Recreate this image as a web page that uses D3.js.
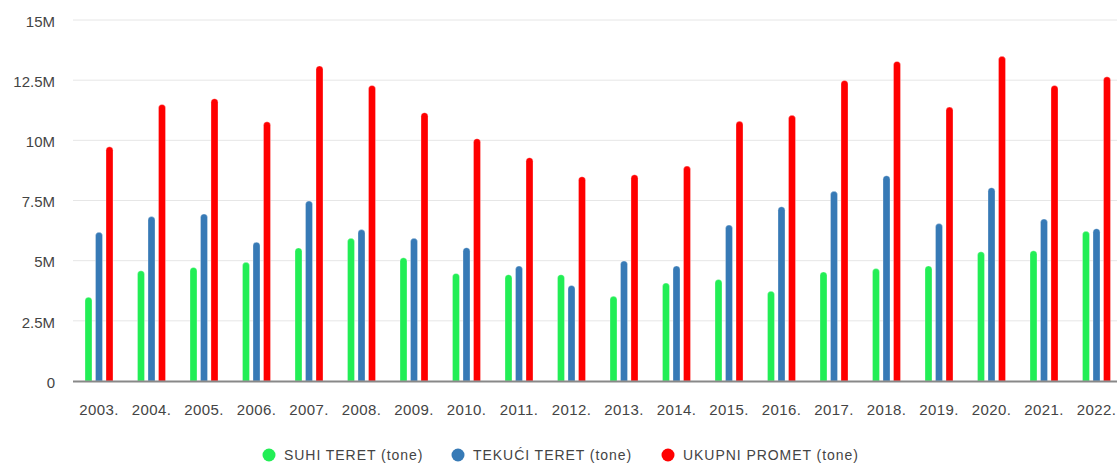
<!DOCTYPE html>
<html>
<head>
<meta charset="utf-8">
<script src="https://cdn.jsdelivr.net/npm/d3@7"></script>
<style>
  body { margin: 0; background: #fff; }
  svg { display: block; font-family: "Liberation Sans", Arial, sans-serif; }
</style>
</head>
<body>
<div class="panel"></div>
<script>
const years = ["2003.", "2004.", "2005.", "2006.", "2007.", "2008.", "2009.", "2010.", "2011.", "2012.",
               "2013.", "2014.", "2015.", "2016.", "2017.", "2018.", "2019.", "2020.", "2021.", "2022."];
const seriesNames = ["SUHI TERET (tone)", "TEKUĆI TERET (tone)", "UKUPNI PROMET (tone)"];
const seriesColors = ["#22ee55", "#377ab6", "#ff0000"];
const suhiTeret = [3.48, 4.58, 4.72, 4.93, 5.53, 5.93, 5.12, 4.47, 4.42, 4.42,
                   3.52, 4.07, 4.22, 3.73, 4.53, 4.67, 4.78, 5.37, 5.41, 6.22];
const tekuciTeret = [6.18, 6.83, 6.94, 5.77, 7.48, 6.29, 5.93, 5.54, 4.78, 3.97,
                     4.99, 4.78, 6.48, 7.24, 7.88, 8.53, 6.54, 8.03, 6.73, 6.33];
const ukupniPromet = [9.73, 11.49, 11.73, 10.77, 13.09, 12.28, 11.15, 10.07, 9.28, 8.49,
                      8.57, 8.93, 10.79, 11.04, 12.49, 13.28, 11.38, 13.49, 12.28, 12.64];
const yTicks = [0, 2.5e6, 5e6, 7.5e6, 10e6, 12.5e6, 15e6];
const yTickLabels = ["0", "2.5M", "5M", "7.5M", "10M", "12.5M", "15M"];

const width = 1117;
const height = 463;

const svg = d3.select(".panel")
    .append("svg")
    .attr("width", width)
    .attr("height", height)
    .attr("viewBox", `0 0 ${width} ${height}`);

const allSeries = [suhiTeret, tekuciTeret, ukupniPromet];
const rows = years.map((y, i) => ({
    year: y,
    values: seriesNames.map((s, k) => ({ key: s, value: allSeries[k][i] * 1e6 }))
}));

const x0 = d3.scaleBand()
    .domain(years)
    .range([72.75, 1122.75])
    .paddingInner(0.4)
    .paddingOuter(0.2);

const x1 = d3.scaleBand()
    .domain(seriesNames)
    .range([0, x0.bandwidth()])
    .paddingInner(1 / 3)
    .paddingOuter(1 / 6);

const y = d3.scaleLinear()
    .domain([0, 15e6])
    .range([381, 20]);

const color = d3.scaleOrdinal().domain(seriesNames).range(seriesColors);

// gridlines
svg.append("g")
   .selectAll("line")
   .data(yTicks.slice(1))
   .enter()
   .append("line")
   .attr("x1", 73)
   .attr("x2", width)
   .attr("y1", d => y(d))
   .attr("y2", d => y(d))
   .attr("stroke", "#e6e6e6")
   .attr("stroke-width", 1);

// y labels
svg.append("g")
   .selectAll("text")
   .data(yTicks)
   .enter()
   .append("text")
   .attr("x", 55)
   .attr("y", d => y(d) + 1.5)
   .attr("dy", "0.35em")
   .attr("text-anchor", "end")
   .attr("font-size", 15)
   .attr("fill", "#444")
   .text((d, i) => yTickLabels[i]);

// bars with rounded tops
function barPath(xl, w, top, bottom){
  const r = Math.min(w / 2, bottom - top);
  return `M${xl},${bottom}V${top + r}A${r},${r} 0 0 1 ${xl + r},${top}` +
         `H${xl + w - r}A${r},${r} 0 0 1 ${xl + w},${top + r}V${bottom}Z`;
}

const groups = svg.append("g")
    .selectAll("g")
    .data(rows)
    .enter()
    .append("g")
    .attr("transform", d => `translate(${x0(d.year)},0)`);

groups.selectAll("path")
      .data(d => d.values)
      .enter()
      .append("path")
      .attr("d", d => barPath(x1(d.key), x1.bandwidth(), y(d.value), y(0)))
      .attr("fill", d => color(d.key))
      .attr("stroke", "rgba(255,255,255,0.5)")
      .attr("stroke-width", 0.6);

// baseline
svg.append("line")
   .attr("x1", 73)
   .attr("x2", width)
   .attr("y1", y(0) + 0.5)
   .attr("y2", y(0) + 0.5)
   .attr("stroke", "#888")
   .attr("stroke-width", 2);

// x labels
svg.append("g")
   .selectAll("text")
   .data(years)
   .enter()
   .append("text")
   .attr("x", d => x0(d) + x0.bandwidth() / 2)
   .attr("y", 410)
   .attr("dy", "0.35em")
   .attr("text-anchor", "middle")
   .attr("font-size", 15)
   .attr("letter-spacing", "0.4px")
   .attr("fill", "#444")
   .text(d => d);

// legend
const legendX = [269, 458, 668];
const legend = svg.append("g")
    .selectAll("g")
    .data(seriesNames)
    .enter()
    .append("g")
    .attr("transform", (d, i) => `translate(${legendX[i]}, 455)`);

legend.append("circle")
      .attr("r", 6.5)
      .attr("fill", d => color(d));

legend.append("text")
      .attr("x", 15)
      .attr("dy", "0.35em")
      .attr("font-size", 14)
      .attr("letter-spacing", "0.95px")
      .attr("fill", "#444")
      .text(d => d);
</script>
</body>
</html>
